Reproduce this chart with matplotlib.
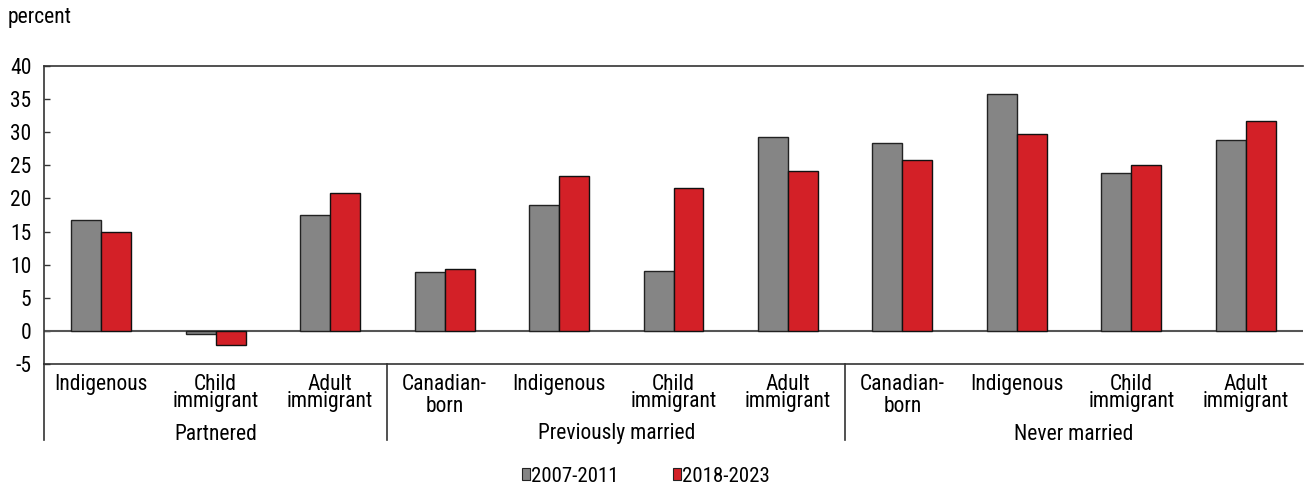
import matplotlib
matplotlib.use("Agg")
import matplotlib.pyplot as plt
from matplotlib.patches import Patch
from matplotlib.lines import Line2D
import matplotlib.transforms as mtransforms
import numpy as np

categories = ["Indigenous", "Child\nimmigrant", "Adult\nimmigrant",
              "Canadian-\nborn", "Indigenous", "Child\nimmigrant", "Adult\nimmigrant",
              "Canadian-\nborn", "Indigenous", "Child\nimmigrant", "Adult\nimmigrant"]
groups = ["Partnered", "Previously married", "Never married"]
group_sizes = [3, 4, 4]
series_2007 = [16.7, -0.5, 17.5, 8.9, 19.0, 9.1, 29.3, 28.3, 35.8, 23.8, 28.9]
series_2018 = [14.9, -2.1, 20.75, 9.3, 23.4, 21.55, 24.2, 25.8, 29.8, 25.1, 31.7]
series_names = ["2007-2011", "2018-2023"]
yticks = [-5, 0, 5, 10, 15, 20, 25, 30, 35, 40]

plt.rcParams['font.family'] = ['Roboto Condensed', 'PT Sans Narrow', 'DejaVu Sans']
FS = 15.5
plt.rcParams['font.size'] = FS

W, H = 1305, 487
fig = plt.figure(figsize=(W/100, H/100), dpi=100)
left, right, top, bottom = 44, 1303, 66, 364
ax = fig.add_axes([left/W, 1-bottom/H, (right-left)/W, (bottom-top)/H])

gray = "#858585"
red = "#d32027"
x = np.arange(len(categories))
bw = 0.262
ax.bar(x - bw/2, series_2007, bw, color=gray, edgecolor="#222222", linewidth=1.0, zorder=3)
ax.bar(x + bw/2, series_2018, bw, color=red, edgecolor="#111111", linewidth=1.0, zorder=3)
ax.axhline(0, color="#555555", linewidth=1.5, zorder=2)

ax.set_xlim(-0.5, len(categories) - 0.5)
ax.set_ylim(-5, 40)
ax.set_yticks(yticks)
ax.set_yticklabels([str(t) for t in yticks], fontsize=FS)
ax.tick_params(axis='y', direction='in', length=4, width=1, pad=9, color="#333333")
ax.set_xticks([])
for s in ax.spines.values():
    s.set_color("#333333")
    s.set_linewidth(1.2)
ax.spines['right'].set_visible(False)

trans = mtransforms.blended_transform_factory(ax.transData, ax.transAxes)
hpx = bottom - top
for i, c in enumerate(categories):
    ls = 1.05 if c.startswith("Canadian") else 0.72
    ax.text(i, -(374 - bottom) / hpx, c, transform=trans, ha='center', va='top',
            fontsize=FS, linespacing=ls)

start = 0
for g, n in zip(groups, group_sizes):
    center = start + (n - 1) / 2
    ax.text(center, -(434 - bottom) / hpx, g, transform=trans, ha='center', va='center', fontsize=FS)
    start += n

bounds = [-0.5, 2.5, 6.5]
for b in bounds:
    ax.add_line(Line2D([b, b], [0, -(440 - bottom) / hpx], transform=trans,
                       color="#333333", linewidth=1.2, clip_on=False))

fig.text(8/W, 1-18/H, "percent", ha='left', va='center', fontsize=FS)

handles = [Patch(facecolor=gray, edgecolor="#222222", linewidth=0.8),
           Patch(facecolor=red, edgecolor="#222222", linewidth=0.8)]
fig.legend(handles, series_names, loc='center', bbox_to_anchor=(646/W, 1-476/H),
           ncol=2, frameon=False, fontsize=15, handlelength=0.4, handleheight=0.5,
           handletextpad=0.05, columnspacing=2.6, borderpad=0.1)

fig.savefig("out.png", dpi=100)
